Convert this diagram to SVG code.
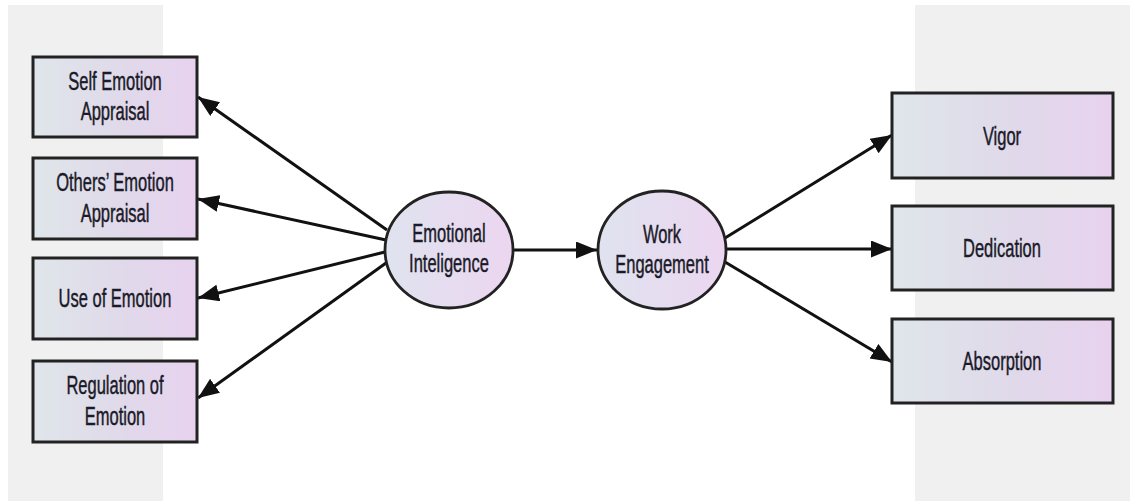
<svg xmlns="http://www.w3.org/2000/svg" width="1130" height="501" viewBox="0 0 1130 501">
  <style>
    .panel { fill: #f0f0f0; }
    .box { fill: url(#boxFill); stroke: #222; stroke-width: 3; }
    .oval { fill: url(#ovalFill); stroke: #222; stroke-width: 2.8; }
    .lbl { font-family: "Liberation Sans", Arial, sans-serif; font-size: 25px; fill: #1a1a28; stroke: #1a1a28; stroke-width: 0.45; text-anchor: middle; }
    .edge { stroke: #111; stroke-width: 3; fill: none; marker-end: url(#arrow); }
  </style>
  <defs>
    <linearGradient id="boxFill" x1="0" y1="0" x2="1" y2="0">
      <stop offset="0" stop-color="#dfe6ea"/>
      <stop offset="0.55" stop-color="#e0d9ea"/>
      <stop offset="1" stop-color="#e8d2ef"/>
    </linearGradient>
    <linearGradient id="ovalFill" x1="0" y1="0" x2="1" y2="0">
      <stop offset="0" stop-color="#dfe3ef"/>
      <stop offset="1" stop-color="#ecd6f0"/>
    </linearGradient>
    <marker id="arrow" markerUnits="userSpaceOnUse" markerWidth="22" markerHeight="18" refX="21" refY="8.5" orient="auto">
      <path d="M0,0 L21,8.5 L0,17 z" fill="#111"/>
    </marker>
  </defs>

  <rect width="1130" height="501" fill="#ffffff"/>
  <!-- side bands -->
  <rect class="panel" x="8" y="5" width="155" height="496"/>
  <rect class="panel" x="915" y="5" width="215" height="496"/>

  <!-- connectors -->
  <g id="connectors">
    <line class="edge" x1="387" y1="230" x2="198" y2="97"/>
    <line class="edge" x1="386" y1="240" x2="198" y2="199"/>
    <line class="edge" x1="385" y1="252" x2="198" y2="298"/>
    <line class="edge" x1="386" y1="263" x2="198" y2="398"/>
    <line class="edge" x1="513" y1="250" x2="597" y2="250"/>
    <line class="edge" x1="725" y1="238" x2="892" y2="135"/>
    <line class="edge" x1="727" y1="249" x2="892" y2="249"/>
    <line class="edge" x1="725" y1="262" x2="892" y2="362"/>
  </g>

  <!-- indicator boxes, left -->
  <g id="self-emotion-appraisal">
    <rect class="box" x="33" y="57" width="164" height="80"/>
    <text class="lbl" transform="translate(115 90) scale(0.66 1)">Self Emotion</text>
    <text class="lbl" transform="translate(115 120) scale(0.66 1)">Appraisal</text>
  </g>
  <g id="others-emotion-appraisal">
    <rect class="box" x="33" y="158" width="164" height="81"/>
    <text class="lbl" transform="translate(115 191) scale(0.66 1)">Others’ Emotion</text>
    <text class="lbl" transform="translate(115 222) scale(0.66 1)">Appraisal</text>
  </g>
  <g id="use-of-emotion">
    <rect class="box" x="33" y="258" width="164" height="81"/>
    <text class="lbl" transform="translate(115 307) scale(0.66 1)">Use of Emotion</text>
  </g>
  <g id="regulation-of-emotion">
    <rect class="box" x="33" y="361" width="164" height="81"/>
    <text class="lbl" transform="translate(115 394) scale(0.66 1)">Regulation of</text>
    <text class="lbl" transform="translate(115 425) scale(0.66 1)">Emotion</text>
  </g>

  <!-- latent constructs -->
  <g id="emotional-inteligence">
    <ellipse class="oval" cx="449" cy="250" rx="64" ry="58"/>
    <text class="lbl" transform="translate(449 242) scale(0.66 1)">Emotional</text>
    <text class="lbl" transform="translate(449 272) scale(0.66 1)">Inteligence</text>
  </g>
  <g id="work-engagement">
    <ellipse class="oval" cx="662" cy="250" rx="64" ry="59"/>
    <text class="lbl" transform="translate(662 243) scale(0.66 1)">Work</text>
    <text class="lbl" transform="translate(662 273) scale(0.66 1)">Engagement</text>
  </g>

  <!-- indicator boxes, right -->
  <g id="vigor">
    <rect class="box" x="892" y="93" width="221" height="85"/>
    <text class="lbl" transform="translate(1002 145) scale(0.66 1)">Vigor</text>
  </g>
  <g id="dedication">
    <rect class="box" x="892" y="206" width="221" height="84"/>
    <text class="lbl" transform="translate(1002 257) scale(0.66 1)">Dedication</text>
  </g>
  <g id="absorption">
    <rect class="box" x="892" y="319" width="221" height="84"/>
    <text class="lbl" transform="translate(1002 370) scale(0.66 1)">Absorption</text>
  </g>
</svg>
